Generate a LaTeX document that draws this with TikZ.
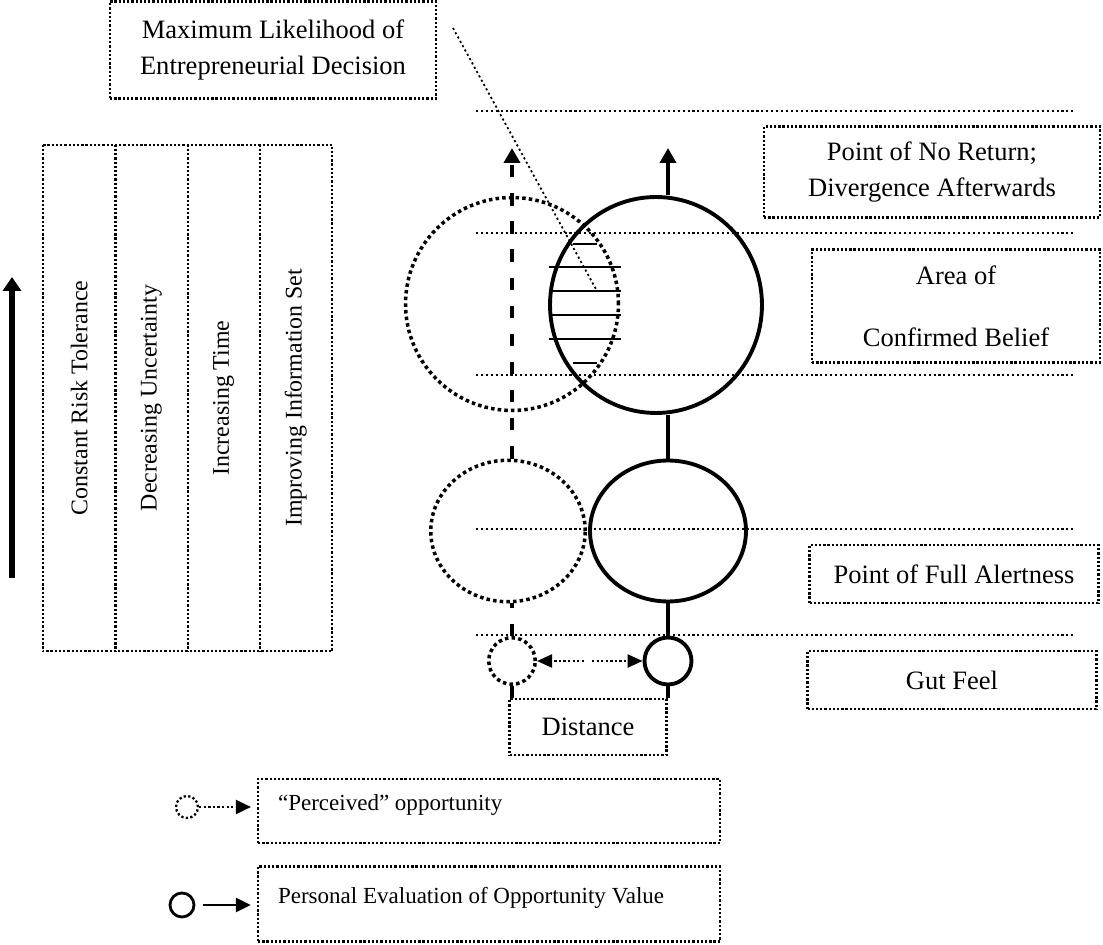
\documentclass[tikz,border=0pt]{standalone}
\usepackage{fontspec}
\setmainfont{Liberation Serif}
\usetikzlibrary{arrows.meta,shapes.geometric}

\begin{document}
\begin{tikzpicture}[x=0.02cm, y=-0.02cm,
        font=\fontsize{15.1}{20.5}\selectfont,
        boxline/.style={line width=1.3pt, dash pattern=on 1.3pt off 1.1pt},
        textbox/.style={draw, boxline, align=center, inner sep=0pt},
        columnbox/.style={rotate=90, inner sep=0pt, minimum width=10.12cm, minimum height=1.445cm, font=\fontsize{13.6}{16}\selectfont},
        solidring/.style={ellipse, draw, line width=2.2pt, inner sep=0pt},
        dotring/.style={ellipse, draw, line width=2pt, dash pattern=on 2pt off 1.8pt, inner sep=0pt},
        levelline/.style={line width=1.2pt, dash pattern=on 1.2pt off 1.6pt},
        dashline/.style={line width=2.3pt, dash pattern=on 7pt off 9pt},
        distline/.style={line width=1.3pt, dash pattern=on 1.3pt off 1.3pt, -{Triangle[width=0.26cm,length=0.3cm]}},
        uptip/.style={-{Triangle[width=0.32cm,length=0.3cm]}},
        legendbox/.style={textbox, minimum width=9.24cm, inner xsep=0.4cm, text width=8.44cm, align=flush left, text height=9pt, text depth=9.5pt, font=\fontsize{13.1}{16}\selectfont},
        ]

        \useasboundingbox (0,0) rectangle (1103,945);

        % Decision box and its pointer
        \node[textbox, minimum width=6.52cm, minimum height=1.94cm] (maxlike) at (273,50) {Maximum Likelihood of\\Entrepreneurial Decision};
        \coordinate (pointfrom) at (453,28);
        \coordinate (pointto) at (597,291);
        \draw[levelline, line width=1pt] (pointfrom) -- (pointto);

        % Stages
        \node[textbox, minimum width=6.72cm, minimum height=1.82cm] (noreturn) at (932,172) {Point of No Return;\\Divergence Afterwards};
        \node[textbox, minimum width=5.76cm, minimum height=2.26cm] (confirmed) at (956,306) {Area of\\[15pt]Confirmed Belief};
        \node[textbox, minimum width=5.78cm, minimum height=1.16cm] (alert) at (954,574) {Point of Full Alertness};
        \node[textbox, minimum width=5.78cm, minimum height=1.16cm] (gutfeel) at (952,680) {Gut Feel};

        % Levels
        \foreach \y in {111,233,375,529,635}
            \draw[levelline] (476,\y) -- (1075,\y);

        % Hatching of the overlap
        \foreach \y in {267,291,315,339}
            \draw[line width=1pt] (549,\y) -- (621,\y);
        \foreach \y in {244,363}
            \draw[line width=1pt] (573,\y) -- (597,\y);

        % Circles
        \node[dotring, minimum width=4.26cm, minimum height=4.26cm] (bigd) at (512,304) {};
        \node[solidring, minimum width=4.24cm, minimum height=4.32cm] (bigs) at (656,305) {};
        \node[dotring, minimum width=3.09cm, minimum height=2.83cm] (midd) at (508,531) {};
        \node[solidring, minimum width=3.12cm, minimum height=2.82cm] (mids) at (668,531) {};
        \node[dotring, minimum size=0.93cm] (smalld) at (512,661) {};
        \node[solidring, minimum size=0.94cm] (smalls) at (668,661) {};

        % Perceived path
        \coordinate (dashtop) at (512,148);
        \draw[dashline, uptip] (midd.north -| smalld.north) -- (dashtop);
        \draw[dashline] (smalld.north) -- (smalld.north |- midd.south);

        % Evaluated path
        \coordinate (solidtop) at (668,148);
        \draw[line width=2.2pt, uptip] (bigs.north -| mids.north) -- (solidtop);
        \draw[line width=2.2pt] (mids.north) -- (mids.north |- bigs.south);
        \draw[line width=2.2pt] (smalls.north) -- (mids.south);

        % Distance
        \node[textbox, minimum width=3.14cm, minimum height=1.12cm] (dist) at (588,727) {Distance};
        \draw[line width=2.2pt] (smalld.south) -- (smalld.south |- dist.north);
        \draw[line width=2.2pt] (smalls.south) -- (smalls.south |- dist.north);
        \coordinate (gapl) at (584,661);
        \coordinate (gapr) at (592,661);
        \draw[distline] (gapl) -- (smalld.east);
        \draw[distline] (gapr) -- (smalls.west);

        % Columns
        \node[columnbox] (risk) at (79.125,398) {Constant Risk Tolerance};
        \node[columnbox] (uncert) at (151.375,398) {Decreasing Uncertainty};
        \node[columnbox] (timecol) at (223.625,398) {Increasing Time};
        \node[columnbox] (infoset) at (295.875,398) {Improving Information Set};
        \draw[boxline] (risk.north east) rectangle (infoset.south west);
        \draw[boxline] (risk.south east) -- (risk.south west);
        \draw[boxline] (uncert.south east) -- (uncert.south west);
        \draw[boxline] (timecol.south east) -- (timecol.south west);

        \coordinate (timefoot) at (12,578);
        \coordinate (timehead) at (12,277);
        \draw[line width=3.4pt, -{Triangle[width=0.36cm,length=0.28cm]}] (timefoot) -- (timehead);

        % Legend
        \node[legendbox, minimum height=1.28cm] (legperc) at (489,811) {“Perceived” opportunity};
        \node[legendbox, minimum height=1.5cm] (legvalue) at (489,904) {Personal Evaluation of Opportunity Value};
        \node[dotring, line width=1.3pt, dash pattern=on 1.3pt off 1.3pt, minimum size=0.44cm] (legd) at (187,807) {};
        \node[solidring, line width=1.6pt, minimum size=0.48cm] (legs) at (182,905) {};
        \draw[distline, -{Triangle[width=0.28cm,length=0.3cm]}, shorten >=0.12cm] (legd.east) -- (legd.east -| legperc.west);
        \draw[line width=1.6pt, -{Triangle[width=0.28cm,length=0.3cm]}, shorten <=0.16cm, shorten >=0.12cm] (legs.east) -- (legs.east -| legvalue.west);

    \end{tikzpicture}
\end{document}
